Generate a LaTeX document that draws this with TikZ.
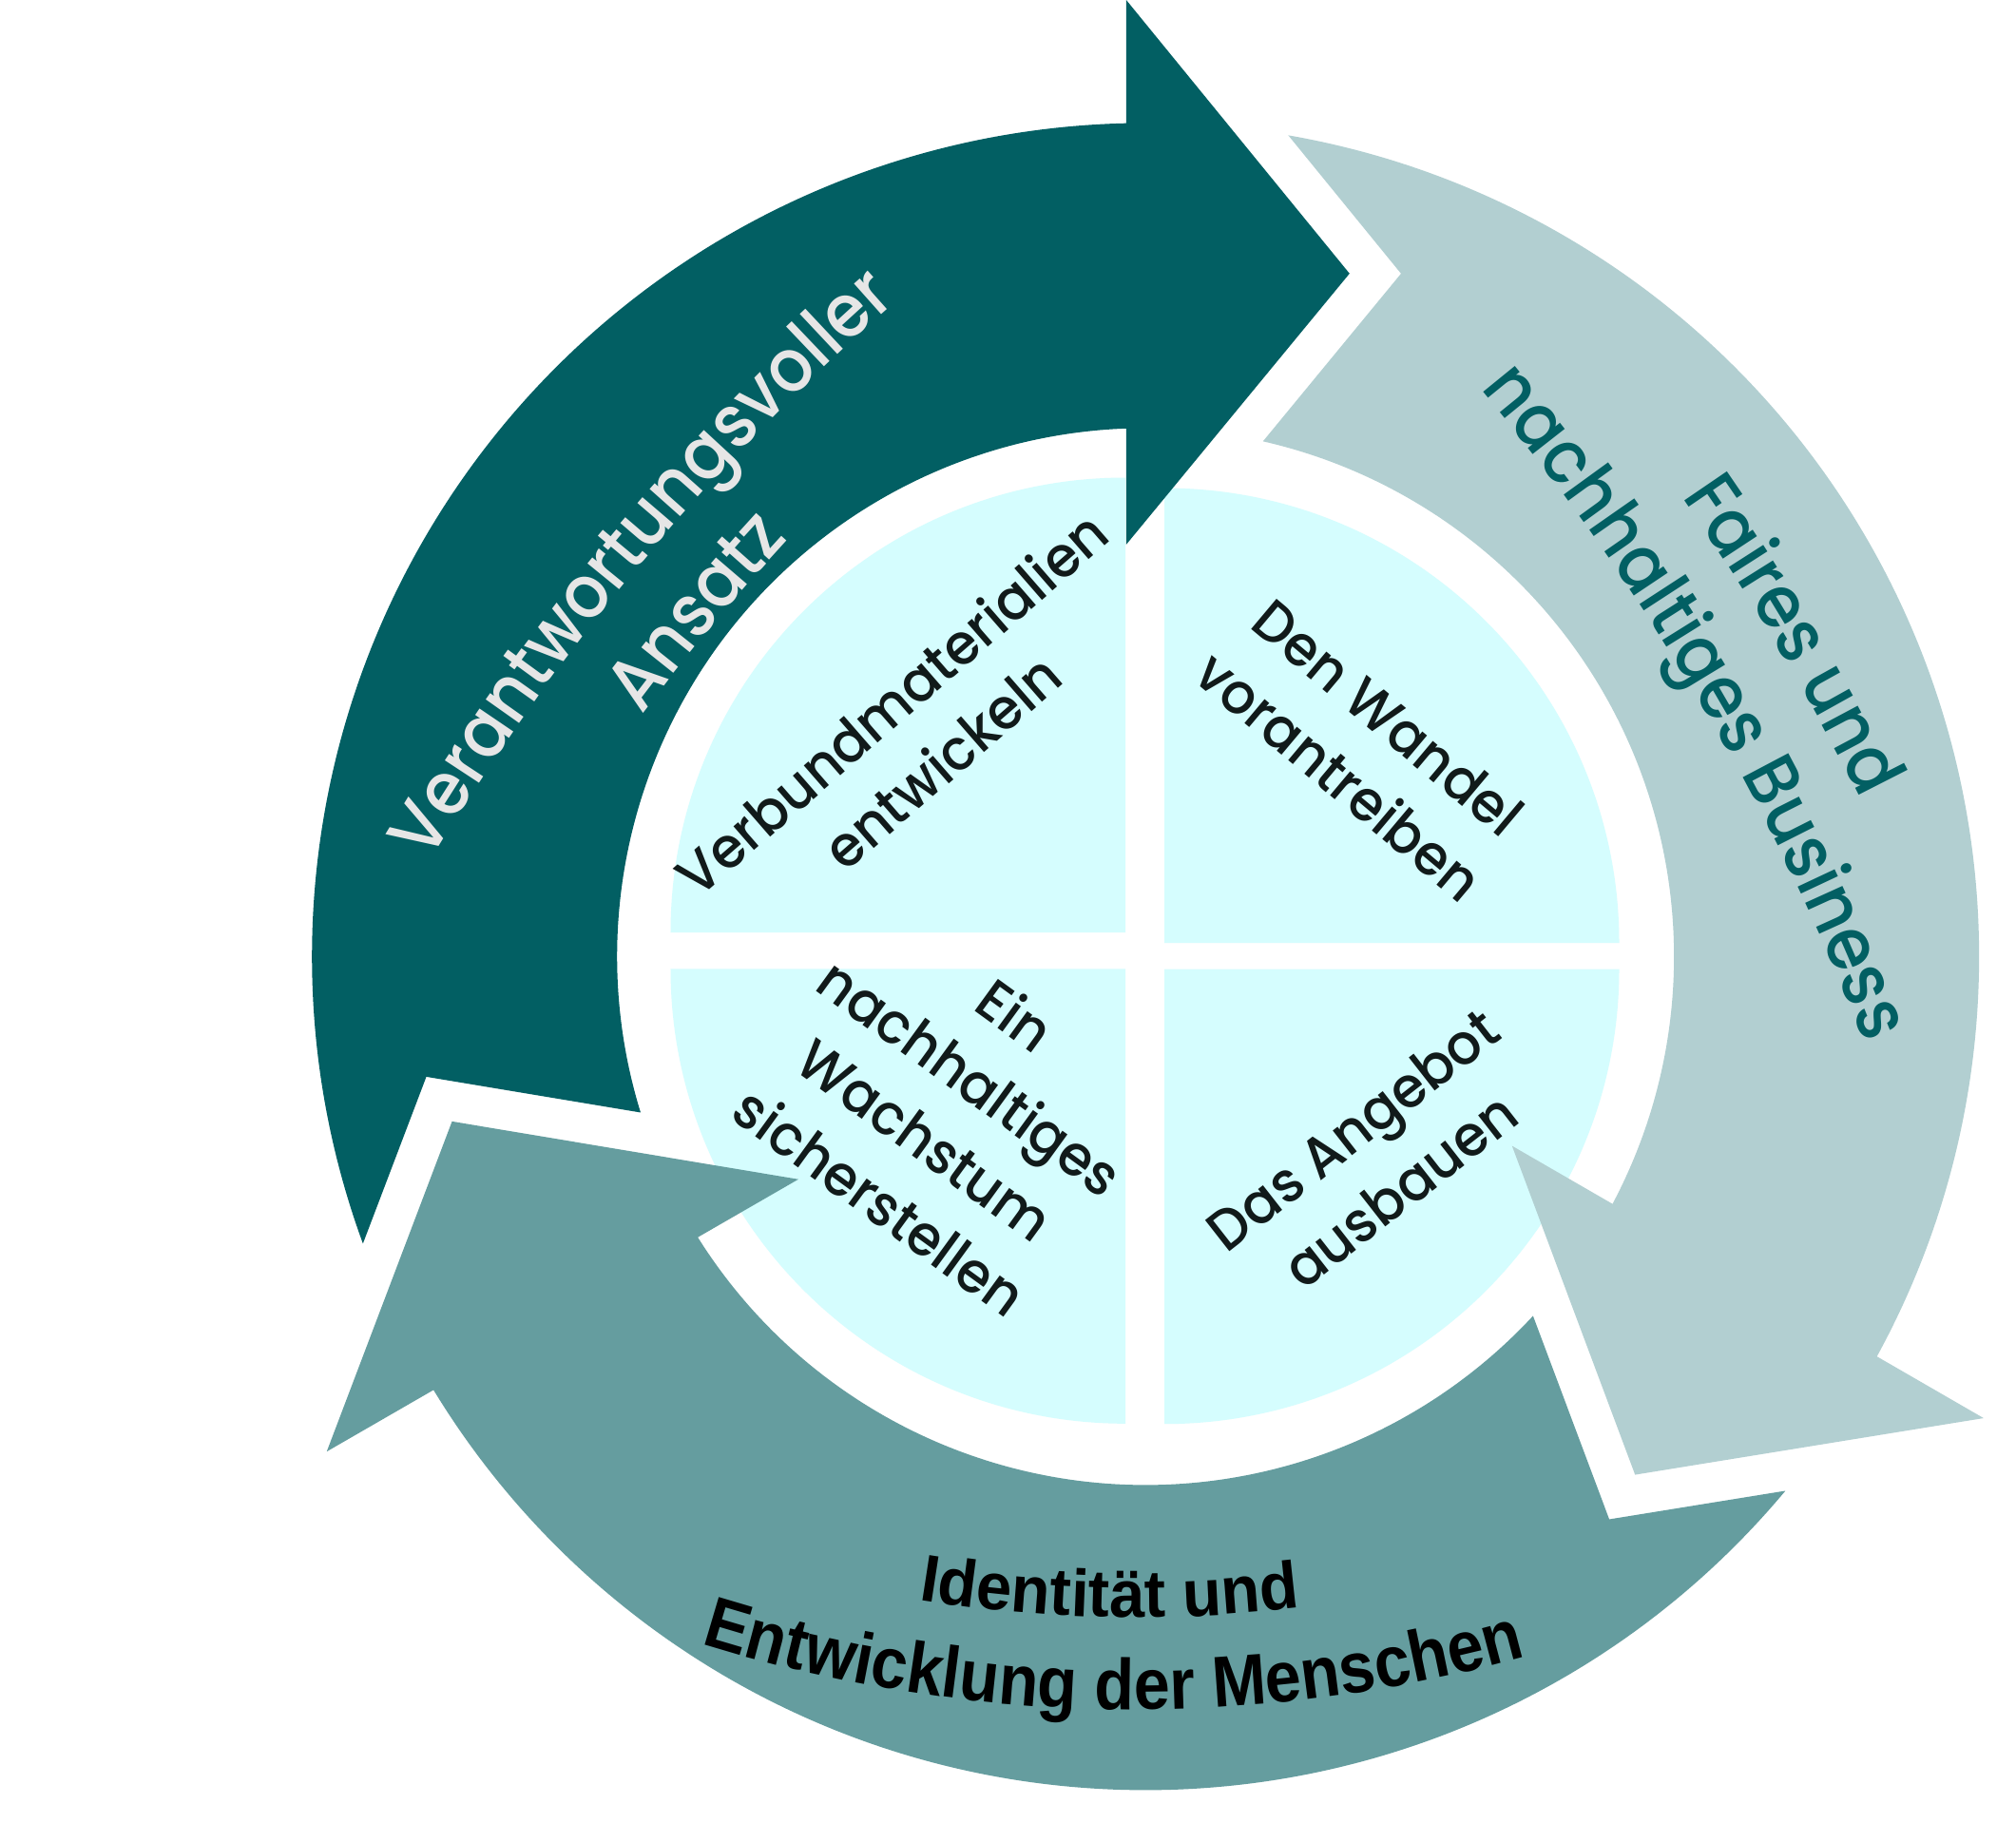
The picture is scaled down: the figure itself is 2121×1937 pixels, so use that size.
\documentclass[tikz,border=0pt]{standalone}
\usepackage{fontspec}
\usetikzlibrary{decorations.text}
\newfontfamily\pf{Poppins Medium}[FakeStretch=0.95]
\newfontfamily\pfn{Poppins Medium}[FakeStretch=0.91]
\newfontfamily\lsA{Liberation Sans}[FakeStretch=0.96]
\newfontfamily\lsB{Liberation Sans}[FakeStretch=0.9]
\definecolor{cdark}{HTML}{025F63}
\definecolor{cmid}{HTML}{659D9F}
\definecolor{clight}{HTML}{B2CFD1}
\definecolor{cpie}{HTML}{D5FDFE}
\definecolor{ctext}{HTML}{111A1A}
\definecolor{cgray}{HTML}{E6E6E6}
\newcommand\fdark{\pfn\fontsize{22.2}{26}\selectfont\color{cgray}}
\newcommand\flight{\pfn\fontsize{22.2}{26}\selectfont\color{cdark}}
\newcommand\fbotA{\lsA\bfseries\fontsize{19.9}{24}\selectfont\color{black}}
\newcommand\fbotB{\lsB\bfseries\fontsize{21.6}{26}\selectfont\color{black}}
\tikzset{
  pietext/.style={font=\pf\fontsize{17}{23}\selectfont, text=ctext, align=center, inner sep=0pt},
  piece/.style={fill=cpie}
}
\begin{document}
\begin{tikzpicture}[x=0.1mm,y=0.1mm]
\useasboundingbox (-1205.2,-930.6) rectangle (915.8,1006.4);
\fill[white] (-1205.2,-930.6) rectangle (915.8,1006.4);
% pie quadrants
\fill[piece] (-21.2,25.4) -- ++(-478.5,0) arc[start angle=180,end angle=90,radius=478.5] -- cycle;
\fill[piece] (19.8,14.4) -- ++(0,478.5) arc[start angle=90,end angle=0,radius=478.5] -- cycle;
\fill[piece] (-21.2,-12.9) -- ++(0,-478.5) arc[start angle=270,end angle=180,radius=478.5] -- cycle;
\fill[piece] (19.8,-13.3) -- ++(478.5,0) arc[start angle=0,end angle=-90,radius=478.5] -- cycle;
% arrows
\foreach \ang/\col in {0/cdark,120/cmid,240/clight}{
  \fill[\col, rotate=\ang] (200.14:877) arc[start angle=200.14,end angle=91.33,radius=877]
    -- (-20.3,1006.4) -- (214.6,718.6) -- (-20.3,433.5) -- (92.09:556)
    arc[start angle=92.09,end angle=197.16,radius=556] -- (189.49:767.2) -- cycle;
}
% arrow labels
\path[decorate,decoration={text along path,text align=center,text={|\fdark|Verantwortungsvoller}}]
  ([shift={(1374.9,-1171)}]152.25:2478.5) arc[start angle=152.25,end angle=128.25,radius=2478.5];
\path[decorate,decoration={text along path,text align=center,text={|\fdark|Ansatz}}]
  ([shift={(1374.9,-1171)}]150.28:2378.5) arc[start angle=150.28,end angle=130.28,radius=2378.5];
\path[decorate,decoration={text along path,text align=center,text={|\flight|Faires und}}]
  ([shift={(-1555.1,-984.6)}]38.6:2578.5) arc[start angle=38.6,end angle=22.6,radius=2578.5];
\path[decorate,decoration={text along path,text align=center,text={|\flight|nachhaltiges Business}}]
  ([shift={(-1555.1,-984.6)}]44.4:2478.5) arc[start angle=44.4,end angle=16.4,radius=2478.5];
\path[decorate,decoration={text along path,text align=center,text={|\fbotA|Identität und}}]
  ([shift={(-10.7,740.6)}]253.9:1436) arc[start angle=253.9,end angle=283.9,radius=1436];
\path[decorate,decoration={text along path,text align=center,text={|\fbotB|Entwicklung der Menschen}}]
  ([shift={(-10.7,740.6)}]247.1:1533) arc[start angle=247.1,end angle=291.1,radius=1533];
% pie labels
\node[pietext, rotate=41] (pa) at (-241.1,236.1) {Verbundmaterialien\\entwickeln};
\node[pietext, rotate=-40] (pb) at (229.6,220.9) {Den Wandel\\vorantreiben};
\node[pietext, rotate=-36] (pc) at (-207.6,-159.2) {Ein\\nachhaltiges\\Wachstum\\sicherstellen};
\node[pietext, rotate=38] (pd) at (242.8,-213.7) {Das Angebot\\ausbauen};
\end{tikzpicture}
\end{document}
